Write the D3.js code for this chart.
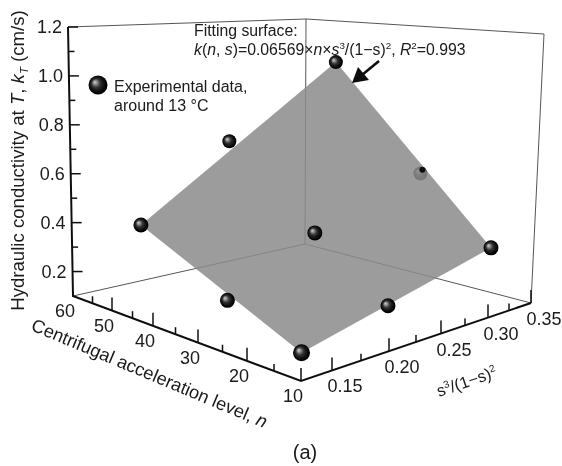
<!DOCTYPE html><html><head><meta charset="utf-8"><style>
html,body{margin:0;background:#fff}
text{font-family:"Liberation Sans",Arial,sans-serif;fill:#1a1a1a}
</style></head><body><svg id="c" width="562" height="466"></svg>
<script src="https://cdn.jsdelivr.net/npm/d3@7"></script><script>
// data
const nTicks=[60,55,50,45,40,35,30,25,20,15,10];
const sTicks=[.125,.15,.175,.2,.225,.25,.275,.3,.325,.35];
const zTicks=[.2,.3,.4,.5,.6,.7,.8,.9,1.0,1.1,1.2];
const nMajor=[60,50,40,30,20,10];
const sMajor=[.15,.2,.25,.3,.35];
const zMajor=[.2,.4,.6,.8,1.0,1.2];
const ptN=[14.5,14.5,14.75,27.5,28.75,27.5,47.25,48.75,47.5];
const ptS=[.145,.221,.331,.139,.220,.323,.140,.222,.327];
const ptK=[.138,.211,.321,.251,.415,.583,.435,.711,1.020];
const surfN=[14.5,14.75,47.5,47.25];
const surfS=[.145,.331,.327,.140];
const surfK=[.138,.321,1.020,.435];

const nT=d3.scaleLinear().domain(nMajor).range([0,39/228,80/228,125/228,174/228,1]);
const sT=d3.scaleLinear().domain(sTicks).range([0,31,60,88,115,140,164,187,208,230].map(d=>d/230));
const zT=d3.scaleLinear().domain([.1,1.2]).range([0,1]);
const B={L:[73,296],F:[301,381],R:[531,303],K:[305,244]},T={L:[68,27],F:[300,47],R:[544,34],K:[306,19]};
const bl=(C,u,v,i)=>(1-u)*(1-v)*C.L[i]+u*(1-v)*C.F[i]+u*v*C.R[i]+(1-u)*v*C.K[i];
function P(n,s,k){const u=nT(n),v=sT(s),w=zT(k);return [0,1].map(i=>(1-w)*bl(B,u,v,i)+w*bl(T,u,v,i));}

const svg=d3.select('#c');
const defs=svg.append('defs');
const g=defs.append('radialGradient').attr('id','ball').attr('cx','.5').attr('cy','.5').attr('r','.55').attr('fx','.32').attr('fy','.34');
[[0,'#d0d0d0'],[.14,'#a0a0a0'],[.42,'#333'],[.75,'#080808'],[1,'#000']].forEach(d=>g.append('stop').attr('offset',d[0]).attr('stop-color',d[1]));
const blur=defs.append('filter').attr('id','soft').attr('x','-5%').attr('y','-5%').attr('width','110%').attr('height','110%');
blur.append('feGaussianBlur').attr('stdDeviation',.45);

const root=svg.append('g').attr('filter','url(#soft)');
const line=d3.line();
const thin=(pts)=>root.append('path').attr('d',line(pts)).attr('fill','none').attr('stroke','#555').attr('stroke-width',1);
// back frame
const k0=.1,k1=1.2,n0=60,n1=10,s0=.125,s1=.35;
thin([P(n0,s0,k1),P(n0,s1,k1),P(n1,s1,k1),P(n1,s1,k0)]);
thin([P(n0,s0,k0),P(n0,s1,k0),P(n1,s1,k0)]);
thin([P(n0,s1,k0),P(n0,s1,k1)]);

const idx=d3.range(ptN.length);
const sphere=(i,r)=>{const p=P(ptN[i],ptS[i],ptK[i]);root.append('circle').attr('cx',p[0]).attr('cy',p[1]).attr('r',r).attr('fill','url(#ball)');};
// sphere under the surface
sphere(5,7);
root.append('path').attr('d',line(surfN.map((n,i)=>P(n,surfS[i],surfK[i])))+'Z').attr('fill','#8c8c8c').attr('fill-opacity',.86);
const fp=P(ptN[5],ptS[5],ptK[5]);
root.append('circle').attr('cx',fp[0]+2).attr('cy',fp[1]-3.8).attr('r',3).attr('fill','#111');
const radius=[8.5,7.5,7.5,7.5,7.5,0,7.5,7,7];
idx.filter(i=>i!==5).forEach(i=>sphere(i,radius[i]));

// axes
const thick=pts=>root.append('path').attr('d',line(pts)).attr('fill','none').attr('stroke','#111').attr('stroke-width',2);
thick([P(n0,s0,k1),P(n0,s0,k0),P(n1,s0,k0),P(n1,s1,k0)]);
nTicks.forEach(n=>{const p=P(n,s0,k0),m=nMajor.includes(n);if(n===60)return;
 root.append('line').attr('x1',p[0]).attr('y1',p[1]).attr('x2',p[0]).attr('y2',p[1]-(m?13:7)).attr('stroke','#111').attr('stroke-width',1.5);});
sTicks.forEach(s=>{const p=P(n1,s,k0),m=sMajor.includes(s);if(s===.125)return;
 root.append('line').attr('x1',p[0]).attr('y1',p[1]).attr('x2',p[0]).attr('y2',p[1]-(m?13:7)).attr('stroke','#111').attr('stroke-width',1.5);});
zTicks.forEach(z=>{const p=P(n0,s0,z),m=zMajor.includes(z);
 root.append('line').attr('x1',p[0]).attr('y1',p[1]).attr('x2',p[0]+(m?10:6)).attr('y2',p[1]).attr('stroke','#111').attr('stroke-width',1.5);});
// tick labels
const lab=(x,y,t,a)=>root.append('text').attr('x',x).attr('y',y).attr('text-anchor',a||'middle').attr('font-size',18).text(t);
nMajor.forEach(n=>{const p=P(n,s0,k0);lab(p[0]-8,p[1]+21,String(n));});
sMajor.forEach(s=>{const p=P(n1,s,k0);lab(p[0]+13,p[1]+22,s.toFixed(2));});
zMajor.forEach(z=>{const p=P(n0,s0,z);lab(p[0]-6,p[1]+6,z.toFixed(1),'end');});

// titles
function rich(x,y,rot,parts,size,anchor){
 const t=root.append('text').attr('transform',`translate(${x},${y}) rotate(${rot})`).attr('font-size',size).attr('text-anchor',anchor||'start');
 parts.forEach(p=>{const s=t.append('tspan').text(p.t);
  if(p.i)s.attr('font-style','italic');
  if(p.sup){s.attr('font-size',size*.62).attr('dy',-size*.38);}
  if(p.sub){s.attr('font-size',size*.62).attr('dy',size*.2);}
  if(p.back)s.attr('dy',p.back*size);
 });
 return t;
}
rich(24,160.5,-90,[{t:'Hydraulic conductivity at '},{t:'T',i:1},{t:', '},{t:'k',i:1},{t:'T',i:1,sub:1},{t:' (cm/s)',back:-.2}],18.6,'middle');
rich(147,379,22.8,[{t:'Centrifugal acceleration level, '},{t:'n',i:1}],18.2,'middle');
rich(439,397,-19,[{t:'s'},{t:'3',sup:1},{t:'/(1−s)',back:.38},{t:'2',sup:1}],16.5);
root.append('text').attr('x',305).attr('y',459).attr('text-anchor','middle').attr('font-size',20).text('(a)');

// annotations
rich(194,36,0,[{t:'Fitting surface:'}],15.8);
rich(194,55,0,[{t:'k',i:1},{t:'('},{t:'n',i:1},{t:', '},{t:'s',i:1},{t:')=0.06569×'},{t:'n',i:1},{t:'×'},{t:'s',i:1},{t:'3',sup:1},{t:'/(1−s)',back:.38},{t:'2',sup:1},{t:', ',back:.38},{t:'R',i:1},{t:'2',sup:1},{t:'=0.993',back:.38}],15.8);
rich(114,92,0,[{t:'Experimental data,'}],16);
rich(114,111,0,[{t:'around 13 °C'}],16);
root.append('circle').attr('cx',98).attr('cy',85).attr('r',9.5).attr('fill','url(#ball)');
// arrow
root.append('path').attr('d',line([[379,61],[362,75]])).attr('stroke','#111').attr('stroke-width',2.6).attr('fill','none');
root.append('path').attr('d','M352,83L358,67L369,80Z').attr('fill','#111');
</script></body></html>
